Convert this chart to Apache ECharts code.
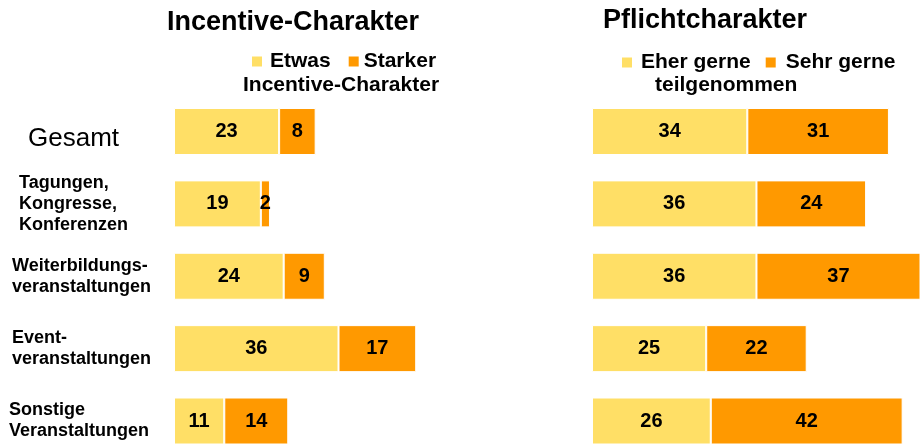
<!DOCTYPE html>
<html>
<head>
<meta charset="utf-8">
<script src="https://cdn.jsdelivr.net/npm/echarts@6/dist/echarts.min.js"></script>
<style>
  html, body { margin: 0; padding: 0; background: #fff; }
  #main { width: 920px; height: 446px; }
</style>
</head>
<body>
<div id="main"></div>
<script type="text/javascript">
    // Kategorien und Werte
    var categories = ['Gesamt', 'Tagungen,\nKongresse,\nKonferenzen', 'Weiterbildungs-\nveranstaltungen', 'Event-\nveranstaltungen', 'Sonstige\nVeranstaltungen'];
    var etwas = [23, 19, 24, 36, 11];
    var starker = [8, 2, 9, 17, 14];
    var eherGerne = [34, 36, 36, 25, 26];
    var sehrGerne = [31, 24, 37, 22, 42];
    var leftNames = ['Etwas', 'Starker\nIncentive-Charakter'];
    var rightNames = ['Eher gerne', 'Sehr gerne\nteilgenommen'];
    var titles = ['Incentive-Charakter', 'Pflichtcharakter'];

    var FONT = "'Liberation Sans', Arial, Helvetica, sans-serif";
    var YELLOW = '#FFDF66';
    var ORANGE = '#FF9900';
    var labelStyles = ['g', 't', 'w', 'w', 's'];

    function firstLine(name) { return name.split('\n')[0]; }
    function restLine(name) { return name.split('\n').slice(1).join('\n'); }

    function barSeries(name, data, color, idx) {
        return {
            name: name,
            type: 'bar',
            stack: 'p' + idx,
            xAxisIndex: idx,
            yAxisIndex: idx,
            barWidth: 47,
            data: data,
            itemStyle: { color: color, borderColor: '#fff', borderWidth: 1 },
            label: {
                show: true,
                position: 'inside',
                color: '#000',
                fontFamily: FONT,
                fontWeight: 'bold',
                fontSize: 20
            }
        };
    }

    function legendText(pad) {
        return { fontFamily: FONT, fontSize: 21, fontWeight: 'bold', color: '#000', padding: [0, 0, 0, pad] };
    }

    var myChart = echarts.init(document.getElementById('main'));
    myChart.setOption({
        animation: false,
        title: [
            { text: titles[0], left: 167, top: 9, padding: 0,
              textStyle: { fontFamily: FONT, fontSize: 27, fontWeight: 'bold', color: '#000' } },
            { text: titles[1], left: 603, top: 7, padding: 0,
              textStyle: { fontFamily: FONT, fontSize: 27, fontWeight: 'bold', color: '#000' } }
        ],
        legend: [
            { data: [{ name: leftNames[0], textStyle: legendText(3) }, { name: leftNames[1], textStyle: legendText(0) }],
              left: 252, top: 51, padding: 0, icon: 'rect',
              itemWidth: 10, itemHeight: 10, itemGap: 18, selectedMode: false,
              itemStyle: { borderWidth: 0 },
              formatter: firstLine },
            { data: [{ name: rightNames[0], textStyle: legendText(4) }, { name: rightNames[1], textStyle: legendText(5) }],
              left: 622, top: 52, padding: 0, icon: 'rect',
              itemWidth: 10, itemHeight: 10, itemGap: 15, selectedMode: false,
              itemStyle: { borderWidth: 0 },
              formatter: firstLine }
        ],
        graphic: [
            { type: 'text', left: 243, top: 75,
              style: { text: restLine(leftNames[1]), font: 'bold 21px ' + FONT, fill: '#000' } },
            { type: 'text', left: 655, top: 75,
              style: { text: restLine(rightNames[1]), font: 'bold 21px ' + FONT, fill: '#000' } }
        ],
        grid: [
            { left: 174, top: 131.5, width: 274.2, height: 289.5 },
            { left: 592, top: 131.5, width: 328, height: 289.5 }
        ],
        xAxis: [
            { gridIndex: 0, type: 'value', min: 0, max: 60, show: false },
            { gridIndex: 1, type: 'value', min: 0, max: 71.8, show: false }
        ],
        yAxis: [
            { gridIndex: 0, type: 'category', inverse: true, boundaryGap: false, data: categories,
              axisLine: { show: false }, axisTick: { show: false }, splitLine: { show: false },
              axisLabel: {
                  align: 'left', margin: 165,
                  formatter: function (value, index) {
                      var st = labelStyles[index];
                      return value.split('\n').map(function (l) { return '{' + st + '|' + l + '}'; }).join('\n');
                  },
                  rich: {
                      g: { fontFamily: FONT, fontSize: 26, color: '#000', padding: [14, 0, 0, 19] },
                      t: { fontFamily: FONT, fontSize: 18, fontWeight: 'bold', color: '#000', lineHeight: 21, padding: [0, 0, 0, 10] },
                      w: { fontFamily: FONT, fontSize: 18, fontWeight: 'bold', color: '#000', lineHeight: 21, padding: [0, 0, 0, 3] },
                      s: { fontFamily: FONT, fontSize: 18, fontWeight: 'bold', color: '#000', lineHeight: 21 }
                  }
              } },
            { gridIndex: 1, type: 'category', inverse: true, boundaryGap: false, data: categories, show: false }
        ],
        series: [
            barSeries(leftNames[0], etwas, YELLOW, 0),
            barSeries(leftNames[1], starker, ORANGE, 0),
            barSeries(rightNames[0], eherGerne, YELLOW, 1),
            barSeries(rightNames[1], sehrGerne, ORANGE, 1)
        ]
    });
</script>
</body>
</html>
